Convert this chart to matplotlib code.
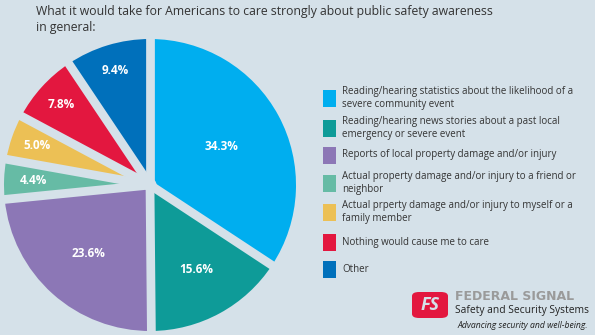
import numpy as np
import matplotlib
matplotlib.use("Agg")
import matplotlib.pyplot as plt
from matplotlib.patches import Rectangle, FancyBboxPatch, Circle

# survey answers, clockwise from the top
labels = [
    "Reading/hearing statistics about the likelihood of a\nsevere community event",
    "Reading/hearing news stories about a past local\nemergency or severe event",
    "Reports of local property damage and/or injury",
    "Actual property damage and/or injury to a friend or\nneighbor",
    "Actual prperty damage and/or injury to myself or a\nfamily member",
    "Nothing would cause me to care",
    "Other",
]
shares = [34.3, 15.6, 23.6, 4.4, 5.0, 7.8, 9.4]
pct_labels = ["34.3%", "15.6%", "23.6%", "4.4%", "5.0%", "7.8%", "9.4%"]

colors = ["#00aeef", "#0e9b98", "#8c77b6", "#66bba5", "#ecc055", "#e3173f", "#0070bb"]
label_dist = [0.56, 0.66, 0.63, 0.80, 0.82, 0.82, 0.82]

bg = "#d5e1e9"
txt = "#333333"
plt.rcParams["font.family"] = ["Open Sans", "DejaVu Sans"]

W, H = 595, 335
fig = plt.figure(figsize=(W / 100, H / 100), dpi=100, facecolor=bg)

# pie: centre at (150, 185) px from top-left, radius ~146 px
cx, cy, r = 150, H - 185, 146
ax = fig.add_axes([(cx - r) / W, (cy - r) / H, 2 * r / W, 2 * r / H])
ax.set_facecolor(bg)
wedges, _ = ax.pie(shares, colors=colors, startangle=90, counterclock=False,
                   radius=1.0, wedgeprops=dict(linewidth=0))
ax.set_xlim(-1, 1)
ax.set_ylim(-1, 1)
ax.axis("off")

# gaps between the slices
for w in wedges:
    a = np.deg2rad(w.theta1)
    ax.plot([0, 1.05 * np.cos(a)], [0, 1.05 * np.sin(a)], color=bg,
            lw=6.3, solid_capstyle="round")
ax.add_patch(Circle((0, 0), 0.045, facecolor=bg, edgecolor="none", zorder=3))

for w, lab, d in zip(wedges, pct_labels, label_dist):
    a = np.deg2rad((w.theta1 + w.theta2) / 2)
    ax.text(d * np.cos(a), d * np.sin(a), lab, color="white", fontsize=8.5,
            fontweight="bold", ha="center", va="center")

# title
fig.text(36 / W, 1 - 5 / H,
         "What it would take for Americans to care strongly about public safety awareness\nin general:",
         fontsize=8.8, color=txt, ha="left", va="top", linespacing=1.35)

# legend
box_y = [98, 128, 155, 183, 212, 242, 269]
for c, lab, y in zip(colors, labels, box_y):
    fig.patches.append(Rectangle((323 / W, 1 - (y + 8.5) / H), 13 / W, 17 / H,
                                 transform=fig.transFigure, facecolor=c,
                                 edgecolor="none"))
    fig.text(342 / W, 1 - y / H, lab, fontsize=7.0, color=txt, ha="left",
             va="center", linespacing=1.25)

# logo
fig.patches.append(FancyBboxPatch((412 / W, 1 - 318 / H), 36 / W, 26 / H,
                                  boxstyle="round,pad=0,rounding_size=0.012",
                                  transform=fig.transFigure,
                                  facecolor="#e3173f", edgecolor="none"))
fig.text(430 / W, 1 - 305 / H, "FS", fontsize=13, fontweight="bold",
         fontstyle="italic", color=bg, ha="center", va="center")
fig.text(455 / W, 1 - 297 / H, "FEDERAL SIGNAL", fontsize=9, fontweight="bold",
         family="DejaVu Sans", color="#9a9a9a", ha="left", va="center")
fig.text(455 / W, 1 - 310 / H, "Safety and Security Systems", fontsize=7.4,
         color="#222222", ha="left", va="center")
fig.text(457 / W, 1 - 326 / H, "Advancing security and well-being.", fontsize=6.2,
         fontstyle="italic", color="#222222", ha="left", va="center")

fig.savefig("out.png", dpi=100, facecolor=bg)
